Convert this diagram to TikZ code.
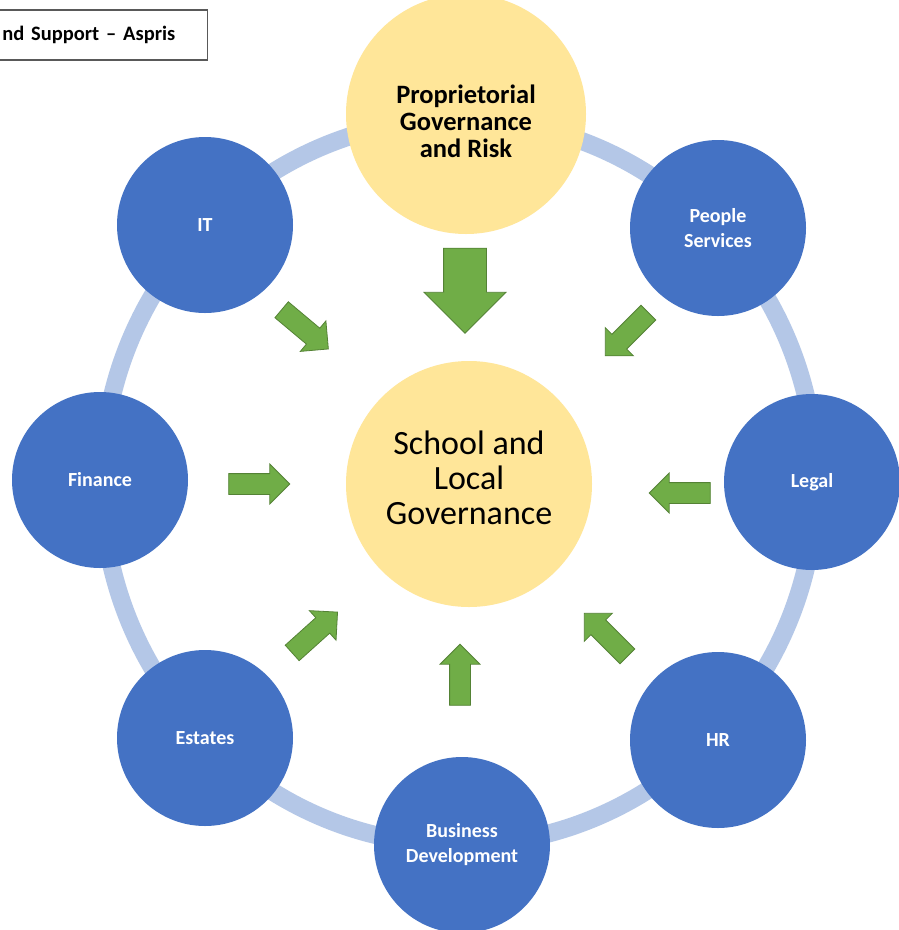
\documentclass[tikz,border=0pt]{standalone}
\usepackage{fontspec}
\setmainfont{Carlito}
\usetikzlibrary{shapes.arrows}
\definecolor{cblue}{HTML}{4472C4}
\definecolor{cyellow}{HTML}{FFE699}
\definecolor{cring}{HTML}{B4C7E7}
\definecolor{cgreen}{HTML}{70AD47}
\definecolor{cgreenD}{HTML}{548235}
\begin{document}
\begin{tikzpicture}[x=1pt,y=-1pt,
  bluec/.style={circle, fill=cblue, minimum size=176pt, inner sep=0pt, text=white,
    font=\fontsize{20}{25}\selectfont\bfseries, align=center},
  yellowc/.style={circle, fill=cyellow, inner sep=0pt},
  garrow/.style={single arrow, fill=cgreen, draw=cgreenD, line width=0.8pt,
    inner xsep=0pt, inner ysep=10pt, text height=0pt, text depth=0pt,
    single arrow head extend=9.5pt, single arrow head indent=0pt,
    minimum height=61pt, minimum width=0pt},
  bigarrow/.style={garrow, inner ysep=21pt, single arrow head extend=19.5pt, minimum height=85pt}
]
\clip (0,0) rectangle (899,930);
\fill[white] (0,0) rectangle (899,930);
% ring
\coordinate (rc) at (459,482);
\draw[cring, line width=18pt] (rc) ellipse [x radius=357pt, y radius=363pt];
% title box
\node (title) [draw=black!65, line width=1.5pt, anchor=north east, minimum height=50pt,
  text width=220pt, align=right, inner xsep=32pt, font=\fontsize{20.5}{24}\selectfont\bfseries]
  at (208,9) {nd Support – Aspris};
% yellow circles
\node (top) [yellowc, minimum size=240pt] at (466,114) {};
\node (toptxt) [align=center, font=\fontsize{26.5}{27}\selectfont\bfseries] at (466,121)
  {Proprietorial\\Governance\\and Risk};
\node (ctr) [yellowc, minimum size=246pt] at (469,484) {};
\node (ctrtxt) [align=center, font=\fontsize{34}{35}\selectfont] at (469,478)
  {School and\\Local\\Governance};
% blue circles
\node (it) [bluec] at (205,225) {IT};
\node (people) [bluec] at (718,228) {People\\Services};
\node (finance) [bluec] at (100,480) {Finance};
\node (legal) [bluec] at (812,482) {Legal};
\node (estates) [bluec] at (205,738) {Estates};
\node (hr) [bluec] at (718,740) {HR};
\node (bd) [bluec] at (462,845) {Business\\Development};
% arrows
\node (abig) [bigarrow, rotate=-90] at (465,280) {};
\node (a1) [garrow, rotate=-40] at (301,326) {};
\node (a2) [garrow, rotate=-135] at (630.5,330.5) {};
\node (a3) [garrow] at (254,484) {};
\node (a4) [garrow, rotate=180] at (685,493) {};
\node (a5) [garrow, rotate=42] at (311,636) {};
\node (a6) [garrow, rotate=135] at (609.5,638.5) {};
\node (a7) [garrow, rotate=90] at (460,680) {};
\end{tikzpicture}
\end{document}
